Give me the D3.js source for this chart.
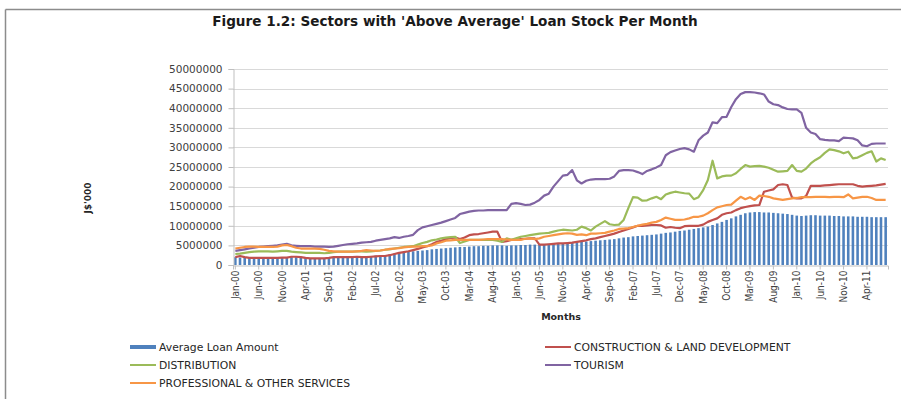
<!DOCTYPE html>
<html>
<head>
<meta charset="utf-8">
<script src="https://cdn.jsdelivr.net/npm/d3@7"></script>
<style>
  html, body { margin: 0; padding: 0; background: #ffffff; }
  svg { display: block; }
</style>
</head>
<body>
<script>
// Monthly loan stock, Jan-2000 to Aug-2011, values in millions of J$'000
const UNIT = 1e6;
const monthNames = ["Jan","Feb","Mar","Apr","May","Jun","Jul","Aug","Sep","Oct","Nov","Dec"];
const years = ["00","01","02","03","04","05","06","07","08","09","10","11"];
const lastYearMonths = 8;

const categories = [];
years.forEach((yy, yi) => {
  const n = yi === years.length - 1 ? lastYearMonths : 12;
  for (let m = 0; m < n; m++) categories.push(monthNames[m] + "-" + yy);
});

const tickLabels = ["Jan-00","Jun-00","Nov-00","Apr-01","Sep-01","Feb-02","Jul-02","Dec-02",
  "May-03","Oct-03","Mar-04","Aug-04","Jan-05","Jun-05","Nov-05","Apr-06","Sep-06","Feb-07",
  "Jul-07","Dec-07","May-08","Oct-08","Mar-09","Aug-09","Jan-10","Jun-10","Nov-10","Apr-11"];

const yTicks = [0, 5000000, 10000000, 15000000, 20000000, 25000000, 30000000, 35000000, 40000000, 45000000, 50000000];
const yTickLabels = ["0","5000000","10000000","15000000","20000000","25000000","30000000","35000000","40000000","45000000","50000000"];

const averageLoan = [
  2.0, 1.9, 1.9, 1.8, 1.8, 1.8, 1.8, 1.8, 1.9, 1.9, 1.9, 1.9,
  2.0, 2.0, 1.9, 1.8, 1.7, 1.7, 1.8, 1.8, 1.9, 1.9, 2.0, 2.0,
  2.1, 2.1, 2.1, 2.2, 2.2, 2.3, 2.4, 2.4, 2.5, 2.7, 2.9, 3.1,
  3.3, 3.4, 3.5, 3.6, 3.7, 3.8, 4.0, 4.1, 4.2, 4.3, 4.4, 4.5,
  4.6, 4.6, 4.7, 4.8, 4.8, 4.9, 4.9, 5.0, 5.0, 5.0, 4.9, 5.0,
  5.0, 5.1, 5.1, 5.2, 5.2, 5.3, 5.3, 5.4, 5.4, 5.5, 5.5, 5.6,
  5.7, 5.8, 5.9, 6.0, 6.1, 6.2, 6.3, 6.4, 6.5, 6.6, 6.8, 7.0,
  7.1, 7.3, 7.4, 7.5, 7.6, 7.7, 7.8, 8.0, 8.2, 8.3, 8.5, 8.7,
  8.8, 9.0, 9.2, 9.4, 9.6, 9.8, 10.2, 10.6, 11.0, 11.5, 11.9, 12.4,
  12.8, 13.2, 13.4, 13.5, 13.5, 13.4, 13.4, 13.3, 13.2, 13.1, 13.0, 12.8,
  12.6, 12.5, 12.6, 12.7, 12.7, 12.6, 12.6, 12.6, 12.5, 12.5, 12.4, 12.4,
  12.4, 12.3, 12.3, 12.3, 12.2, 12.2, 12.2, 12.2
];

const construction = [
  2.0, 2.3, 2.0, 1.8, 1.8, 1.8, 1.8, 1.8, 1.8, 1.8, 1.9, 1.9,
  2.1, 2.1, 2.0, 1.8, 1.7, 1.7, 1.7, 1.7, 1.8, 2.0, 2.0, 2.0,
  2.0, 2.0, 2.1, 2.0, 2.0, 2.1, 2.2, 2.3, 2.3, 2.5, 2.8, 3.1,
  3.3, 3.5, 3.8, 4.1, 4.5, 4.8, 5.3, 5.9, 6.2, 6.6, 6.9, 7.0,
  6.6, 7.0, 7.6, 7.8, 7.9, 8.1, 8.3, 8.5, 8.5, 5.9, 6.1, 6.4,
  6.5, 6.6, 6.7, 6.8, 6.8, 5.2, 5.2, 5.3, 5.4, 5.5, 5.5, 5.6,
  5.7, 5.9, 6.1, 6.3, 6.6, 6.8, 7.1, 7.4, 7.7, 8.0, 8.4, 8.8,
  9.2, 9.6, 10.0, 10.0, 10.1, 10.2, 10.2, 10.1, 9.5, 9.7, 9.5, 9.4,
  9.9, 10.0, 10.0, 10.0, 10.3, 11.0, 11.5, 11.9, 12.8, 13.2, 13.4, 14.0,
  14.5, 14.8, 15.0, 15.2, 15.3, 18.7, 19.0, 19.3, 20.4, 20.6, 20.4, 17.2,
  17.0, 17.0, 17.6, 20.2, 20.2, 20.2, 20.3, 20.4, 20.5, 20.6, 20.6, 20.6,
  20.6, 20.2, 20.0, 20.1, 20.2, 20.3, 20.5, 20.7
];

const distribution = [
  2.8, 2.9, 3.1, 3.3, 3.4, 3.5, 3.5, 3.5, 3.4, 3.5, 3.6, 3.6,
  3.4, 3.3, 3.2, 3.1, 3.1, 3.1, 3.1, 3.0, 3.1, 3.3, 3.4, 3.4,
  3.4, 3.4, 3.5, 3.5, 3.4, 3.5, 3.6, 3.7, 3.9, 4.0, 4.2, 4.4,
  4.6, 4.7, 4.8, 5.2, 5.6, 5.9, 6.3, 6.5, 6.8, 7.0, 7.1, 7.2,
  5.6, 6.0, 6.4, 6.4, 6.4, 6.4, 6.4, 6.4, 6.2, 5.9, 6.8, 6.4,
  6.8, 7.2, 7.4, 7.6, 7.8, 8.0, 8.1, 8.2, 8.5, 8.8, 9.0, 8.9,
  8.8, 9.0, 9.8, 9.4, 8.8, 9.8, 10.5, 11.2, 10.4, 10.2, 10.3, 11.5,
  14.5, 17.3, 17.2, 16.4, 16.5, 17.0, 17.4, 16.8, 18.0, 18.4, 18.7, 18.5,
  18.3, 18.2, 16.8, 17.3, 19.1, 21.7, 26.6, 22.1, 22.6, 22.8, 22.8, 23.4,
  24.5, 25.5, 25.1, 25.2, 25.3, 25.1, 24.8, 24.3, 23.8, 23.9, 24.0, 25.5,
  24.0, 23.8, 24.6, 25.9, 26.8, 27.5, 28.6, 29.5, 29.3, 29.0, 28.5, 28.9,
  27.2, 27.4, 28.0, 28.6, 29.0, 26.4, 27.2, 26.8
];

const tourism = [
  3.6, 3.8, 4.0, 4.2, 4.4, 4.6, 4.7, 4.8, 4.9, 5.0, 5.2, 5.4,
  5.0, 4.9, 4.8, 4.8, 4.8, 4.7, 4.7, 4.7, 4.6, 4.7, 4.9, 5.1,
  5.3, 5.4, 5.5, 5.7, 5.8, 5.9, 6.2, 6.4, 6.6, 6.8, 7.1, 6.9,
  7.2, 7.4, 7.7, 8.9, 9.6, 9.9, 10.2, 10.5, 10.8, 11.2, 11.6, 12.0,
  13.0, 13.3, 13.6, 13.8, 13.9, 13.9, 14.0, 14.0, 14.0, 14.0, 14.0, 15.6,
  15.8, 15.6, 15.3, 15.4, 15.9, 16.6, 17.7, 18.2, 20.0, 21.4, 22.8, 23.0,
  24.2, 21.6, 20.8, 21.5, 21.8, 21.9, 21.9, 21.9, 22.0, 22.6, 24.0, 24.2,
  24.2, 24.1, 23.7, 23.2, 24.0, 24.4, 24.9, 25.5, 28.0, 28.8, 29.2, 29.6,
  29.8, 29.5, 28.9, 31.8, 33.0, 33.8, 36.4, 36.2, 37.7, 37.8, 40.3, 42.3,
  43.6, 44.1, 44.1, 44.0, 43.8, 43.5, 41.7, 41.0, 40.8, 40.2, 39.8, 39.7,
  39.7, 38.8, 35.0, 33.8, 33.4, 32.1, 31.9, 31.8, 31.8, 31.6, 32.5, 32.4,
  32.3, 31.8, 30.5, 30.3, 30.9, 31.0, 31.0, 31.0
];

const professional = [
  4.2, 4.4, 4.6, 4.7, 4.7, 4.6, 4.6, 4.6, 4.6, 4.7, 5.0, 5.1,
  4.8, 4.4, 4.2, 4.2, 4.2, 4.2, 4.1, 3.9, 3.6, 3.5, 3.4, 3.4,
  3.4, 3.4, 3.5, 3.6, 3.8, 3.7, 3.6, 3.7, 3.9, 4.1, 4.2, 4.3,
  4.5, 4.6, 4.7, 4.7, 4.8, 4.8, 5.0, 5.5, 5.8, 6.2, 6.3, 6.4,
  6.4, 6.4, 6.4, 6.4, 6.4, 6.5, 6.6, 6.6, 6.6, 6.6, 6.5, 6.4,
  6.4, 6.4, 6.7, 6.8, 6.6, 6.8, 7.2, 7.4, 7.6, 7.8, 8.0, 8.1,
  8.0, 7.7, 7.8, 7.6, 8.0, 8.0, 8.1, 8.2, 8.5, 8.8, 9.2, 9.3,
  9.4, 9.7, 10.0, 10.3, 10.5, 10.8, 11.0, 11.5, 12.1, 11.8, 11.5, 11.5,
  11.6, 11.9, 12.3, 12.3, 12.6, 13.2, 14.0, 14.7, 15.0, 15.3, 15.4, 16.4,
  17.4, 16.8, 17.3, 16.6, 17.7, 17.6, 17.4, 17.0, 16.8, 16.6, 16.8, 17.0,
  17.1, 17.3, 17.3, 17.3, 17.4, 17.4, 17.4, 17.3, 17.4, 17.4, 17.3, 18.0,
  17.0, 17.2, 17.4, 17.4, 17.1, 16.6, 16.6, 16.6
];

const lineSeries = [
  { name: "CONSTRUCTION & LAND DEVELOPMENT", values: construction, color: "#c0504d" },
  { name: "DISTRIBUTION", values: distribution, color: "#9bbb59" },
  { name: "TOURISM", values: tourism, color: "#8064a2" },
  { name: "PROFESSIONAL & OTHER SERVICES", values: professional, color: "#f79646" }
];
const barColor = "#4f81bd";

const W = 901, H = 399;
const svg = d3.select("body").append("svg").attr("width", W).attr("height", H);

// Page frame edges
svg.append("line").attr("x1", 5.5).attr("x2", W).attr("y1", 9.5).attr("y2", 9.5)
  .attr("stroke", "#8c8c8c").attr("stroke-width", 1.5);
svg.append("line").attr("x1", 5.5).attr("x2", 5.5).attr("y1", 9.5).attr("y2", H)
  .attr("stroke", "#8c8c8c").attr("stroke-width", 1.5);

// Title
svg.append("text")
  .attr("x", 455).attr("y", 26)
  .attr("text-anchor", "middle")
  .style("font-family", "'DejaVu Sans', sans-serif")
  .style("font-weight", "bold")
  .style("font-size", "13.6px")
  .attr("fill", "#1a1a1a")
  .text("Figure 1.2: Sectors with 'Above Average' Loan Stock Per Month");

const plotLeft = 233, plotRight = 888, plotTop = 69, plotBottom = 265;
const pad = 0.45;
const x = d3.scaleBand().domain(categories).range([plotLeft, plotRight])
  .paddingInner(pad).paddingOuter(pad / 2);
const xc = d => x(d) + x.bandwidth() / 2;
const y = d3.scaleLinear().domain([0, 50000000]).range([plotBottom, plotTop]);

// Gridlines
svg.append("g").selectAll("line").data(yTicks.filter(v => v > 0)).join("line")
  .attr("x1", plotLeft).attr("x2", plotRight)
  .attr("y1", d => Math.round(y(d)) + 0.5).attr("y2", d => Math.round(y(d)) + 0.5)
  .attr("stroke", "#d9d9d9").attr("stroke-width", 1);

// Bars: average loan amount
svg.append("g").selectAll("rect").data(averageLoan).join("rect")
  .attr("x", (d, i) => x(categories[i]))
  .attr("width", x.bandwidth())
  .attr("y", d => y(d * UNIT))
  .attr("height", d => plotBottom - y(d * UNIT))
  .attr("fill", barColor);

// Sector lines
const line = d3.line()
  .x((d, i) => xc(categories[i]))
  .y(d => y(d * UNIT));
svg.append("g").selectAll("path").data(lineSeries).join("path")
  .attr("d", s => line(s.values))
  .attr("fill", "none")
  .attr("stroke", s => s.color)
  .attr("stroke-width", 2.2)
  .attr("stroke-linejoin", "round");

// Y axis
const yAxis = svg.append("g")
  .attr("transform", `translate(${plotLeft + 0.5},0)`)
  .call(d3.axisLeft(y).tickValues(yTicks).tickSize(5).tickPadding(6)
    .tickFormat((d, i) => yTickLabels[i]));
yAxis.select(".domain").attr("stroke", "#bfbfbf");
yAxis.selectAll(".tick line").attr("stroke", "#bfbfbf");
yAxis.selectAll("text")
  .style("font-family", "'DejaVu Sans', sans-serif")
  .style("font-size", "10.5px")
  .attr("fill", "#404040");

// X axis
const tickSet = new Set(tickLabels);
const xAxis = svg.append("g")
  .attr("transform", `translate(0,${plotBottom + 0.5})`)
  .call(d3.axisBottom(x).tickValues(categories.filter(c => tickSet.has(c))).tickSize(4));
xAxis.select(".domain").attr("stroke", "#bfbfbf");
xAxis.selectAll(".tick line").attr("stroke", "#bfbfbf");
xAxis.selectAll("text")
  .attr("transform", "rotate(-90)")
  .attr("x", -5).attr("y", 0).attr("dy", "0.35em")
  .style("text-anchor", "end")
  .style("font-family", "'Liberation Sans Narrow', 'DejaVu Sans Condensed', sans-serif")
  .style("font-size", "10px")
  .attr("fill", "#404040");

// Axis titles
svg.append("text")
  .attr("x", 561).attr("y", 320)
  .attr("text-anchor", "middle")
  .style("font-family", "'DejaVu Sans', sans-serif")
  .style("font-weight", "bold")
  .style("font-size", "9.5px")
  .attr("fill", "#262626")
  .text("Months");
svg.append("text")
  .attr("transform", "translate(91,198) rotate(-90)")
  .attr("text-anchor", "middle")
  .style("font-family", "'DejaVu Sans', sans-serif")
  .style("font-weight", "bold")
  .style("font-size", "9px")
  .attr("fill", "#262626")
  .text("J$'000");

// Legend
const legendItems = [
  { name: "Average Loan Amount", color: barColor, w: 4, col: 0, row: 0 },
  { name: lineSeries[0].name, color: lineSeries[0].color, w: 2, col: 1, row: 0 },
  { name: lineSeries[1].name, color: lineSeries[1].color, w: 2, col: 0, row: 1 },
  { name: lineSeries[2].name, color: lineSeries[2].color, w: 2, col: 1, row: 1 },
  { name: lineSeries[3].name, color: lineSeries[3].color, w: 2, col: 0, row: 2 }
];
const colX = [130, 545], rowY = [347, 365, 383];
const lg = svg.append("g").selectAll("g").data(legendItems).join("g")
  .attr("transform", d => `translate(${colX[d.col]},${rowY[d.row]})`);
lg.append("line").attr("x1", 0).attr("x2", 26).attr("y1", 0).attr("y2", 0)
  .attr("stroke", d => d.color).attr("stroke-width", d => d.w);
lg.append("text").attr("x", 29).attr("y", 0).attr("dy", "0.35em")
  .style("font-family", "'DejaVu Sans', sans-serif")
  .style("font-size", "10.8px")
  .attr("fill", "#262626")
  .text(d => d.name);
</script>
</body>
</html>
